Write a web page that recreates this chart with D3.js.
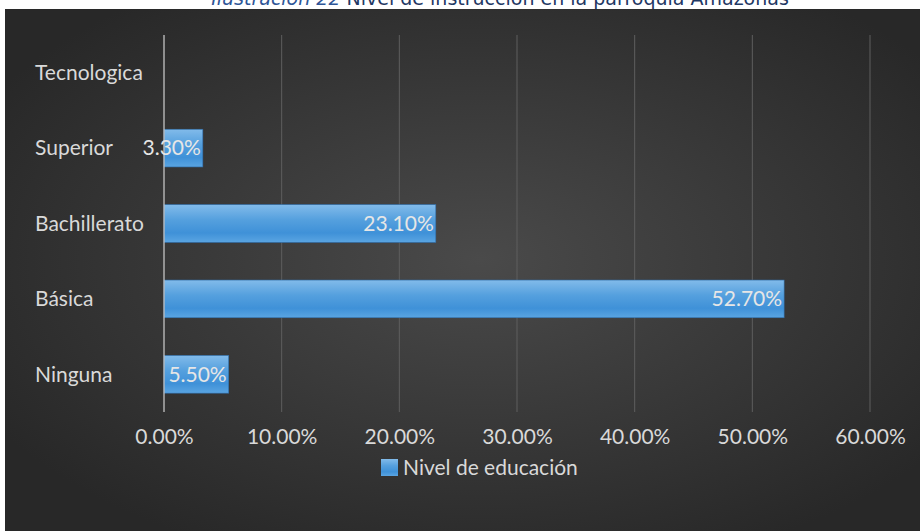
<!DOCTYPE html>
<html><head><meta charset="utf-8">
<script src="https://cdn.jsdelivr.net/npm/d3@7"></script>
<style>body{margin:0;background:#fff;}svg{display:block;}</style>
</head><body>
<script>
const categories = ["Tecnologica","Superior","Bachillerato","Básica","Ninguna"];
const values = [null, 3.3, 23.1, 52.7, 5.5];
const ticks = [0,10,20,30,40,50,60];
const seriesName = "Nivel de educación";

const W=920,H=531;
const svg=d3.select("body").append("svg").attr("width",W).attr("height",H);
const defs=svg.append("defs");
const rg=defs.append("radialGradient").attr("id","bg").attr("cx","52%").attr("cy","48%").attr("r","62%");
rg.append("stop").attr("offset","0%").attr("stop-color","#4a4a4a");
rg.append("stop").attr("offset","100%").attr("stop-color","#282828");
const bg=defs.append("linearGradient").attr("id","bar").attr("x1",0).attr("x2",0).attr("y1",0).attr("y2",1);
bg.append("stop").attr("offset","0%").attr("stop-color","#82bbea");
bg.append("stop").attr("offset","40%").attr("stop-color","#55a0de");
bg.append("stop").attr("offset","75%").attr("stop-color","#3f91d8");
bg.append("stop").attr("offset","100%").attr("stop-color","#5aa5e2");

// title (cut off at top, as in the source image)
const t=svg.append("text").attr("x",500).attr("y",5).attr("text-anchor","middle")
  .attr("font-family","DejaVu Sans").attr("font-size",19).attr("fill","#1f3864");
t.append("tspan").attr("font-style","italic").attr("fill","#2e5597").text("Ilustración 22 ");
t.append("tspan").text("Nivel de instrucción en la parroquia Amazonas");

svg.append("rect").attr("x",5).attr("y",9).attr("width",W-5).attr("height",H-9).attr("fill","url(#bg)");

const x=d3.scaleLinear().domain([0,60]).range([164,870]);
const y=d3.scaleBand().domain(categories).range([35,412]).paddingInner(0.5).paddingOuter(0.25);

const font="Lato, 'Open Sans', sans-serif";
const fs=21;
// gridlines
svg.append("g").selectAll("line").data(ticks.slice(1)).join("line")
  .attr("x1",d=>x(d)).attr("x2",d=>x(d)).attr("y1",35).attr("y2",412)
  .attr("stroke","#5e5e5e").attr("stroke-width",1);

// bars
const bars=categories.map((c,i)=>({c,v:values[i]})).filter(d=>d.v!=null);
svg.append("g").selectAll("rect").data(bars).join("rect")
  .attr("x",x(0)).attr("y",d=>y(d.c)).attr("width",d=>x(d.v)-x(0)).attr("height",y.bandwidth())
  .attr("fill","url(#bar)").attr("stroke","#2f6fae").attr("stroke-width",0.6);

// zero axis line
svg.append("line").attr("x1",x(0)).attr("x2",x(0)).attr("y1",35).attr("y2",412)
  .attr("stroke","#c4c4c4").attr("stroke-width",1.3);

// data labels
svg.append("g").selectAll("text").data(bars).join("text")
  .attr("x",d=>x(d.v)-2).attr("y",d=>y(d.c)+y.bandwidth()/2).attr("dy","0.35em")
  .attr("text-anchor","end").attr("font-family",font).attr("font-size",fs).attr("fill","#e6e6e6")
  .text(d=>d.v.toFixed(2)+"%");

// category labels
svg.append("g").selectAll("text").data(categories).join("text")
  .attr("x",35).attr("y",d=>y(d)+y.bandwidth()/2).attr("dy","0.35em")
  .attr("font-family",font).attr("font-size",fs).attr("fill","#d9d9d9").text(d=>d);

// x axis labels
const ax=svg.append("g").attr("transform","translate(0,437)").call(d3.axisBottom(x).tickValues(ticks).tickSize(0).tickFormat(d=>d.toFixed(2)+"%"));
ax.select(".domain").remove();
ax.selectAll("text").attr("font-family",font).attr("font-size",fs).attr("fill","#d9d9d9").attr("dy","0.35em").attr("y",0);

// legend
svg.append("rect").attr("x",381).attr("y",459).attr("width",17).attr("height",17).attr("fill","url(#bar)");
svg.append("text").attr("x",403).attr("y",467.5).attr("dy","0.35em").attr("font-family",font)
  .attr("font-size",fs).attr("fill","#d9d9d9").text(seriesName);
</script>
</body></html>
